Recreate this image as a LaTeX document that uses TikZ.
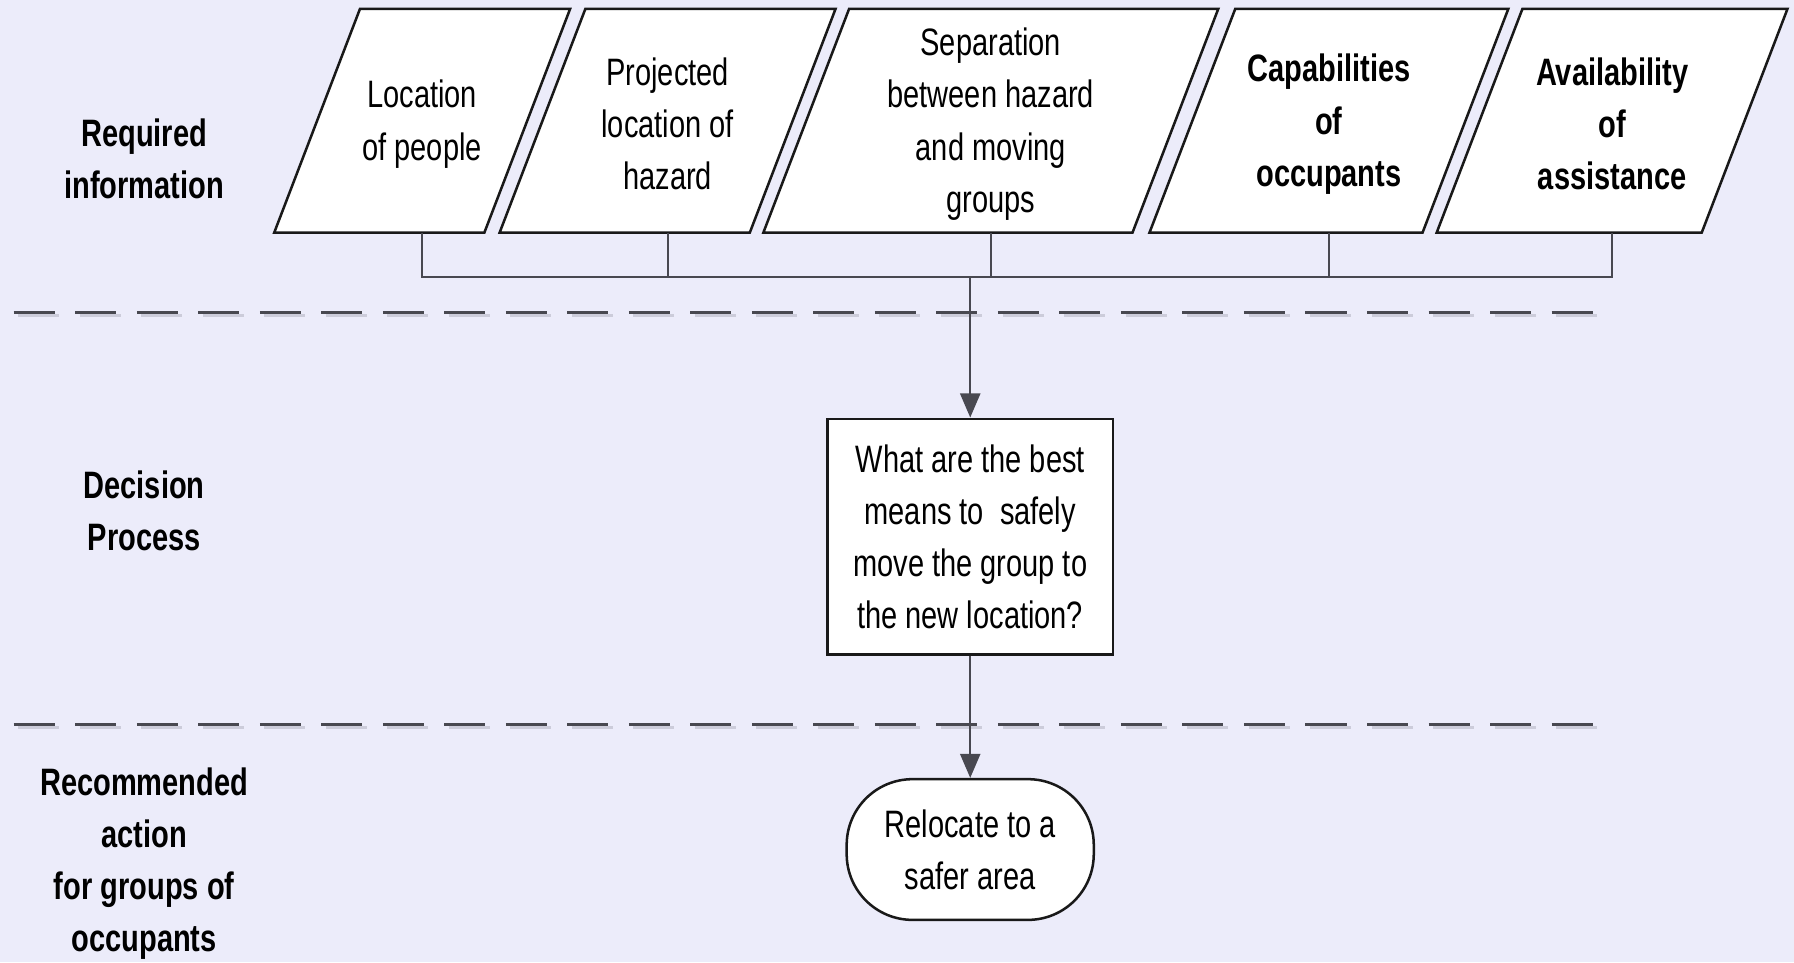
\documentclass[tikz,border=0pt]{standalone}
\usepackage{fontspec}
\setmainfont[FakeStretch=0.76]{Liberation Sans}
\usetikzlibrary{arrows.meta}
\pgfdeclarelayer{background}
\pgfsetlayers{background,main}
\definecolor{bgpanel}{RGB}{236,236,250}
\definecolor{wire}{RGB}{72,72,80}
\definecolor{dashshade}{RGB}{204,204,218}
\definecolor{edge}{RGB}{25,25,25}

\tikzset{
  txt/.style={font=\fontsize{19}{25.9}\selectfont, align=center, inner sep=0pt},
  infobox/.style={txt, minimum height=3.9cm},
  boxline/.style={draw=edge, line width=1.25pt, fill=white, line join=miter},
  wire/.style={draw=wire, line width=1.1pt},
  arrowwire/.style={wire, -{Triangle[length=12pt,width=10pt]}},
  sepline/.style={draw=wire, line width=1.5pt, dash pattern=on 20.4pt off 10.2pt},
  sepshade/.style={draw=dashshade, line width=1.5pt, dash pattern=on 20.4pt off 10.2pt},
  lanelabel/.style={txt, font=\fontsize{19}{25.9}\selectfont\bfseries},
}

% slanted input shape drawn behind a named node (slant 1.5cm, text sits slightly low)
\newcommand{\slantframe}[1]{%
  \path[boxline] ([xshift=-0.75cm,yshift=0.06cm]#1.south west) -- ([xshift=-0.75cm,yshift=0.06cm]#1.south east)
    -- ([xshift=0.75cm,yshift=0.06cm]#1.north east) -- ([xshift=0.75cm,yshift=0.06cm]#1.north west) -- cycle;}
\newcommand{\framefoot}[1]{([yshift=0.06cm]#1.south)}

\begin{document}
\begin{tikzpicture}[x=0.02cm, y=-0.02cm]
\useasboundingbox (0,0) rectangle (1568,841);

% required information inputs
\node[infobox, minimum width=3.66cm] (p1) at (369,108.5) {Location\\of people};
\node[infobox, minimum width=4.36cm] (p2) at (583.5,108.5) {Projected\\location of\\hazard};
\node[infobox, minimum width=6.44cm] (p3) at (866,108.5) {Separation\\between hazard\\and moving\\groups};
\node[infobox, minimum width=4.76cm, font=\fontsize{19}{25.9}\selectfont\bfseries] (p4) at (1161.5,108.5) {Capabilities\\of\\occupants};
\node[infobox, minimum width=4.62cm, font=\fontsize{19}{25.9}\selectfont\bfseries] (p5) at (1409,108.5) {Availability\\of\\assistance};

% decision and action
\node[txt, draw=edge, line width=1.25pt, fill=white, minimum width=5cm, minimum height=4.12cm] (dec) at (848,469)
  {What are the best\\means to\ \ safely\\move the group to\\the new location?};
\node[txt, draw=edge, line width=1.25pt, fill=white, minimum width=4.32cm, minimum height=2.46cm, rounded corners=1.15cm] (act) at (848,742.5)
  {Relocate to a\\safer area};

% lane labels
\node[lanelabel] (l1) at (126,139) {Required\\information};
\node[lanelabel] (l2) at (126,446.5) {Decision\\Process};
\node[lanelabel] (l3) at (126,755) {Recommended\\action\\for groups of\\occupants};

% lane separators with their soft shade
\draw[sepshade] (16,276) -- (1404,276);
\draw[sepline] (12,273) -- (1400,273);
\draw[sepshade] (16,636) -- (1404,636);
\draw[sepline] (12,633) -- (1400,633);

% gathering bus
\coordinate (hub) at (848,242);
\draw[wire] \framefoot{p1} -- (p1.south |- hub) -- (p5.south |- hub) -- \framefoot{p5};
\draw[wire] \framefoot{p2} -- (p2.south |- hub);
\draw[wire] \framefoot{p3} -- (p3.south |- hub);
\draw[wire] \framefoot{p4} -- (p4.south |- hub);
\draw[arrowwire] (hub) -- (dec.north);
\draw[arrowwire] (dec.south) -- (act.north);

\begin{pgfonlayer}{background}
  \fill[bgpanel] (0,0) rectangle (1568,841);
  \slantframe{p1}
  \slantframe{p2}
  \slantframe{p3}
  \slantframe{p4}
  \slantframe{p5}
\end{pgfonlayer}
\end{tikzpicture}
\end{document}
